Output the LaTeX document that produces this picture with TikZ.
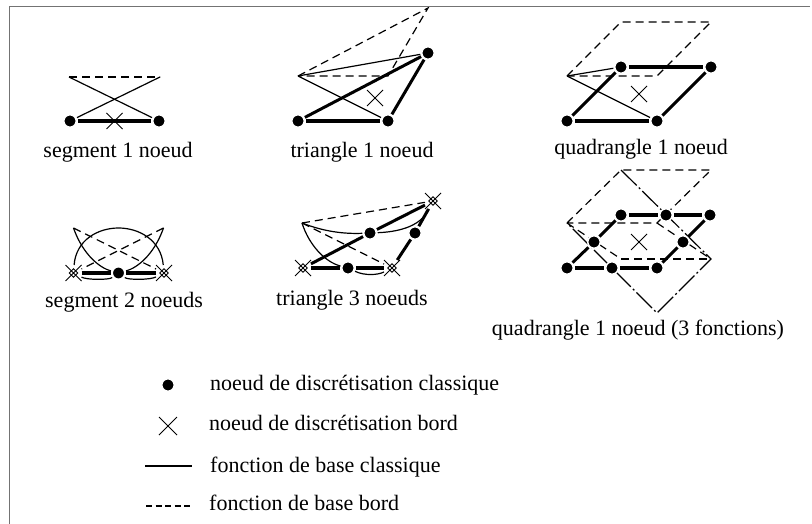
\documentclass[tikz,border=0pt]{standalone}
\usepackage{fontspec}
\setmainfont{Liberation Serif}
\usetikzlibrary{shapes.misc,backgrounds}
\tikzset{
  x=1pt,y=-1pt,
  nd/.style={circle,fill=black,draw=white,line width=1.5pt,minimum size=12.5pt,inner sep=0pt,outer sep=1.5pt},
  xm/.style={cross out,draw=black,line width=0.9pt,minimum size=14pt,inner sep=0pt,outer sep=1pt},
  xi/.style={rectangle,draw=black,line width=0.8pt,minimum size=6pt,inner sep=0pt,outer sep=0pt,rotate=45},
  xb/.style={xm,minimum size=16pt},
  thk/.style={line width=4pt},
  mid/.style={line width=3pt},
  thn/.style={line width=1.2pt},
  dsh/.style={line width=1.2pt,dash pattern=on 8pt off 5pt},
  dd/.style={line width=1.2pt,dash pattern=on 22pt off 3pt on 2pt off 3pt},
  lab/.style={font=\fontsize{22}{24}\selectfont,inner sep=0pt,anchor=base},
  leg/.style={font=\fontsize{22}{24}\selectfont,inner sep=0pt,anchor=base west}
}
\begin{document}
\begin{tikzpicture}
\useasboundingbox (0,0) rectangle (812,524);
% frame
\coordinate (fa) at (9.5,524); \coordinate (fb) at (9.5,6.5); \coordinate (fc) at (810,6.5);
\draw[line width=1.5pt,black!55] (fa) -- (fb) -- (fc);

% segment 1
\node[nd] (a1) at (70,121) {}; \node[nd] (a2) at (159,121) {};
\node[xm] (ax) at (114.5,121) {};
\coordinate (at1) at (69,77); \coordinate (at2) at (160,77);
\begin{scope}[on background layer]
\draw[thk] (a1) -- (a2);
\draw[dsh] (at1) -- (at2);
\draw[thn] (at1) -- (a2); \draw[thn] (at2) -- (a1);
\end{scope}
\node[lab] (al) at (118,158) {segment 1 noeud};

% triangle 1
\node[nd] (b1) at (298,121) {}; \node[nd] (b2) at (388,121) {}; \node[nd] (b3) at (428,53) {};
\node[xm] (bx) at (375,98) {};
\coordinate (bp) at (298,76); \coordinate (bq) at (428,8); \coordinate (br) at (388,76);
\begin{scope}[on background layer]
\draw[thk] (b1) -- (b2);
\draw[mid] (b2) -- (b3); \draw[mid] (b1) -- (b3);
\draw[dsh] (bp) -- (bq) -- (br) -- cycle;
\draw[thn] (bp) -- (b3); \draw[thn] (bp) -- (b2);
\end{scope}
\node[lab] (bl) at (362,158) {triangle 1 noeud};

% quadrangle 1
\node[nd] (c1) at (567,121) {}; \node[nd] (c2) at (657,121) {}; \node[nd] (c3) at (621,67) {}; \node[nd] (c4) at (711,67) {};
\node[xm] (cx) at (639,94) {};
\coordinate (cp) at (567,76); \coordinate (cq) at (621,22); \coordinate (cr) at (711,22); \coordinate (cs) at (657,76);
\begin{scope}[on background layer]
\draw[thk] (c1) -- (c2); \draw[thk] (c3) -- (c4);
\draw[mid] (c1) -- (c3); \draw[mid] (c2) -- (c4);
\draw[dsh] (cp) -- (cq) -- (cr) -- (cs) -- cycle;
\draw[thn] (cp) -- (c3); \draw[thn] (cp) -- (c2);
\end{scope}
\node[lab] (cl) at (641,155) {quadrangle 1 noeud};

% segment 2
\node[xm] (d1) at (73.5,273) {}; \node[nd] (d2) at (118.5,273) {}; \node[xm] (d3) at (164,273) {};
\node[xi] (d1b) at (73.5,273) {}; \node[xi] (d3b) at (164,273) {};
\coordinate (dp) at (73.5,228); \coordinate (dq) at (163.5,228);
\begin{scope}[on background layer]
\draw[thk] (d1) -- (d2) -- (d3);
\draw[dsh] (dp) -- (d3); \draw[dsh] (dq) -- (d1);
\draw[thn] (d1) .. controls (76,240) and (98,228) .. (118.5,228) .. controls (139,228) and (161,240) .. (d3);
\draw[thn] (dp) .. controls (83,255) and (100,268) .. (d2);
\draw[thn] (d2) .. controls (128,280) and (150,280) .. (d3);
\draw[thn] (dq) .. controls (154,255) and (137,268) .. (d2);
\draw[thn] (d2) .. controls (109,280) and (87,280) .. (d1);
\end{scope}
\node[lab] (dl) at (124,307) {segment 2 noeuds};

% triangle 3
\node[xm] (e1) at (303,268) {}; \node[xm] (e2) at (392,268) {}; \node[xm] (e3) at (433,201) {};
\node[xi] (e1b) at (303,268) {}; \node[xi] (e2b) at (392,268) {}; \node[xi] (e3b) at (433,201) {};
\node[nd] (e4) at (348,268) {}; \node[nd] (e5) at (370,233) {}; \node[nd] (e6) at (415,233) {};
\coordinate (ep) at (302,223);
\begin{scope}[on background layer]
\draw[thk] (e1) -- (e4) -- (e2);
\draw[mid] (e1) -- (e5) -- (e3); \draw[mid] (e2) -- (e6) -- (e3);
\draw[dsh] (ep) -- (e3); \draw[dsh] (ep) -- (e2);
\draw[thn] (ep) .. controls (325,232) and (345,234) .. (e5);
\draw[thn] (e5) .. controls (395,232) and (420,228) .. (e3);
\draw[thn] (ep) .. controls (309,245) and (325,262) .. (e4);
\draw[thn] (e4) .. controls (365,276) and (378,275) .. (e2);
\end{scope}
\node[lab] (el) at (352,305) {triangle 3 noeuds};

% quadrangle 3 fonctions
\node[nd] (f1) at (567,268) {}; \node[nd] (f2) at (612,268) {}; \node[nd] (f3) at (657,268) {};
\node[nd] (f4) at (594,242) {}; \node[nd] (f5) at (683,242) {};
\node[nd] (f6) at (621,215) {}; \node[nd] (f7) at (666,215) {}; \node[nd] (f8) at (710,215) {};
\node[xm] (fx) at (639,242) {};
\coordinate (fp) at (567,223); \coordinate (fq) at (621,170); \coordinate (fr) at (711,170); \coordinate (fs) at (657,223);
\coordinate (ft) at (621,259); \coordinate (fu) at (711,259); \coordinate (fv) at (657,313);
\begin{scope}[on background layer]
\draw[thk] (f1) -- (f2) -- (f3); \draw[thk] (f6) -- (f7) -- (f8);
\draw[mid] (f1) -- (f4) -- (f6); \draw[mid] (f3) -- (f5) -- (f8);
\draw[dsh] (fp) -- (fq) -- (fr) -- (fs) -- cycle;
\draw[dsh] (ft) -- (fu);
\draw[dd] (fq) -- (fu) -- (fv) -- (fp);
\draw[dsh] (fp) -- (ft); \draw[dsh] (fs) -- (fu);
\end{scope}
\node[lab] (fl) at (638,335) {quadrangle 1 noeud (3 fonctions)};

% legend
\node[nd] (g1) at (168,385) {};
\node[xb] (g2) at (168,426) {};
\coordinate (g3a) at (145,466); \coordinate (g3b) at (192,466);
\coordinate (g4a) at (146,506); \coordinate (g4b) at (190,506);
\draw[line width=1.6pt] (g3a) -- (g3b);
\draw[line width=1.2pt,dash pattern=on 6pt off 3.5pt] (g4a) -- (g4b);
\node[leg] (t1) at (210,390) {noeud de discrétisation classique};
\node[leg] (t2) at (209,430) {noeud de discrétisation bord};
\node[leg] (t3) at (210,472) {fonction de base classique};
\node[leg] (t4) at (209,510) {fonction de base bord};
\end{tikzpicture}
\end{document}
